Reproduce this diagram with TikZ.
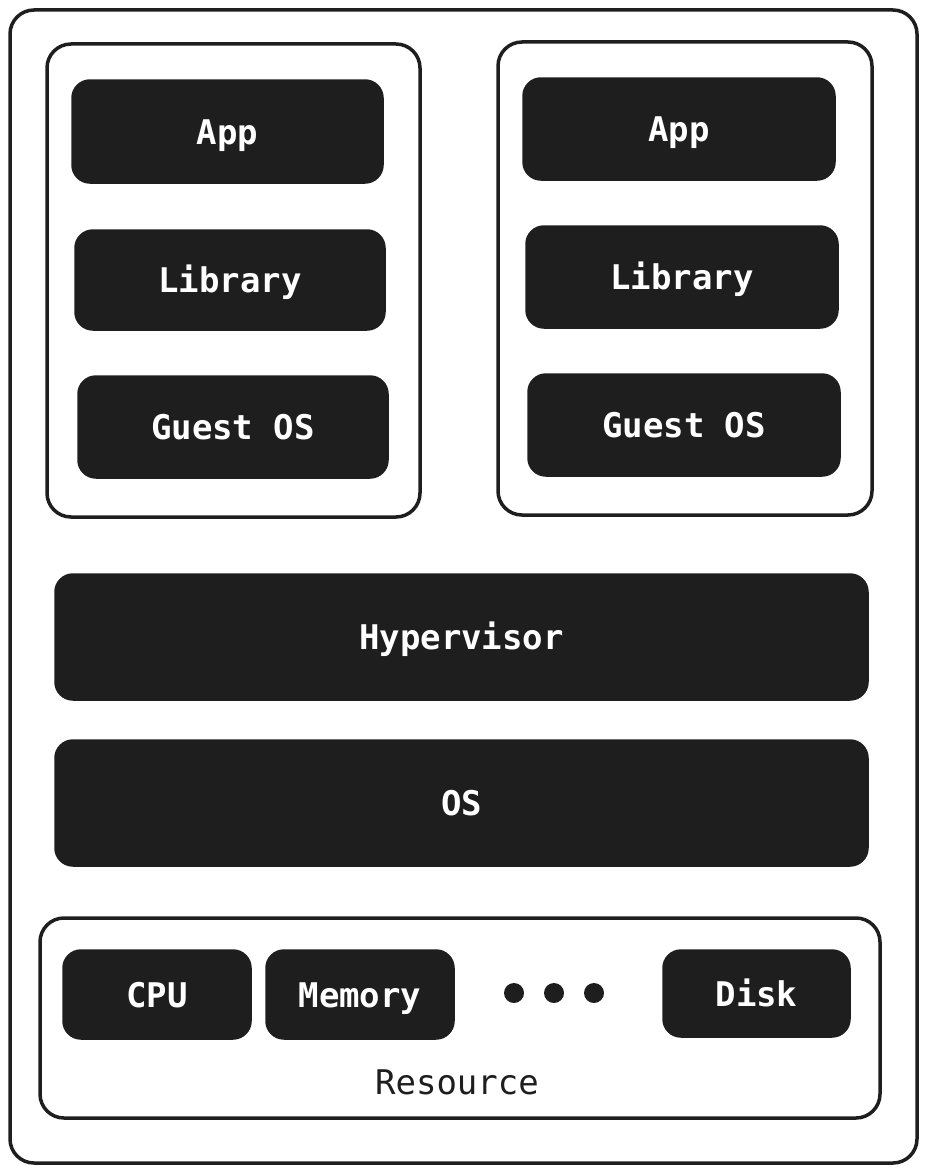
\documentclass[tikz,border=0pt]{standalone}
\usepackage{fontspec}
\setmonofont{DejaVu Sans Mono}
\usepackage{xcolor}
\usetikzlibrary{positioning,calc}
\definecolor{inkdark}{HTML}{1E1E1E}

\tikzset{
  frame/.style={draw=inkdark, line width=3.5pt, rounded corners=24pt, inner sep=0pt},
  layer/.style={fill=inkdark, draw=inkdark, line width=1.5pt, rounded corners=18pt,
    text=white, inner sep=0pt, text height=25pt, text depth=0pt,
    font=\ttfamily\bfseries\fontsize{34}{40}\selectfont},
}

\begin{document}
\begin{tikzpicture}[x=1pt,y=-1pt]
    \useasboundingbox (0,0) rectangle (927,1172);

    % Host machine
    \node[frame, minimum width=907, minimum height=1153] (host) at (463.5,586.5) {};

    % Virtual machines
    \node[frame, minimum width=373, minimum height=473] (vmA) at (233.5,280.5) {};
    \node[frame, minimum width=374, minimum height=473] (vmB) at (685,278.5) {};

    % Left VM stack
    \node[layer, minimum width=311, minimum height=103] (appA) at (227.5,131.5) {App};
    \node[layer, minimum width=310, minimum height=100] (libA) at (230,280) {Library};
    \node[layer, minimum width=310, minimum height=102] (osA)  at (233,427) {Guest OS};

    % Right VM stack
    \node[layer, minimum width=312, minimum height=102] (appB) at (679,129) {App};
    \node[layer, minimum width=312, minimum height=102] (libB) at (682,277) {Library};
    \node[layer, minimum width=312, minimum height=102] (osB)  at (684,425) {Guest OS};

    % Hypervisor and host OS
    \node[layer, minimum width=813, minimum height=126] (hyp) at (461.5,637) {Hypervisor};
    \node[layer, minimum width=813, minimum height=126] (hos) at (461.5,803) {OS};

    % Resource
    \node[frame, minimum width=840, minimum height=200] (res) at (460,1018) {};
    \node[layer, minimum width=188, minimum height=89] (cpu)  at (157,994.5) {CPU};
    \node[layer, minimum width=188, minimum height=89] (mem)  at (360,994.5) {Memory};
    \node[layer, minimum width=187, minimum height=87] (disk) at (756.5,993.5) {Disk};
    \foreach \x [count=\i] in {514,554,594}
        \node[circle, fill=inkdark, minimum size=20, inner sep=0pt] (dot\i) at (\x,993) {};
    \node[text=inkdark, text height=25pt, text depth=0pt, inner sep=0pt,
      font=\ttfamily\fontsize{34}{40}\selectfont] (resname) at (457,1082) {Resource};
\end{tikzpicture}
\end{document}
